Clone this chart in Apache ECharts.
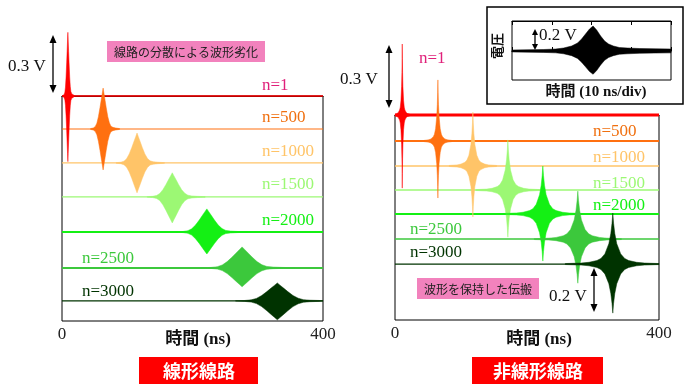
<!DOCTYPE html>
<html><head><meta charset="utf-8">
<script src="https://cdn.jsdelivr.net/npm/echarts@6/dist/echarts.min.js"></script>
<style>html,body{margin:0;padding:0;background:#fff}#c{width:695px;height:392px}</style>
</head><body><div id="c"></div>
<script>
// ---------- data ----------
const traceNames = ['n=1', 'n=500', 'n=1000', 'n=1500', 'n=2000', 'n=2500', 'n=3000'];
const timeTicks = [0, 400];               // ns
// linear line (left panel)
const linBase   = [0, -0.171, -0.347, -0.523, -0.705, -0.891, -1.062]; // V offset of each trace
const linCenter = [9, 63, 115, 169, 222, 276, 330];                    // ns
const linWidth  = [2.3, 6, 10, 12, 14.5, 19, 20];                      // ns
const linUp     = [0.33, 0.212, 0.155, 0.125, 0.12, 0.109, 0.093];     // V
const linDown   = [0.34, 0.212, 0.155, 0.135, 0.114, 0.098, 0.098];    // V
const linProfU  = [-3.2, -2.5, -2, -1.6, -1.2, -0.8, -0.5, -0.2, 0, 0.2, 0.5, 0.8, 1.2, 1.6, 2, 2.5, 3.2, 4.2];
const linProfF  = [0.01, 0.025, 0.06, 0.14, 0.3, 0.52, 0.7, 0.88, 1, 0.88, 0.7, 0.52, 0.3, 0.15, 0.07, 0.04, 0.025, 0.01];
// nonlinear line (right panel)
const nlBase    = [0, -0.121, -0.237, -0.349, -0.460, -0.577, -0.693];
const nlCenter  = [11, 65, 118, 171, 224, 277, 330];
const nlWidth   = [2, 3.5, 6, 8, 10, 11, 12];
const nlUp      = [0.33, 0.284, 0.25, 0.233, 0.223, 0.223, 0.237];
const nlDown    = [0.34, 0.265, 0.237, 0.219, 0.219, 0.205, 0.228];
const nlProfU   = [-6, -4, -3, -2, -1.5, -1, -0.5, -0.25, -0.1, 0, 0.1, 0.25, 0.5, 1, 1.5, 2, 3, 4, 6];
const nlProfF   = [0.01, 0.02, 0.035, 0.07, 0.11, 0.2, 0.4, 0.6, 0.8, 1, 0.8, 0.6, 0.4, 0.2, 0.11, 0.07, 0.035, 0.02, 0.01];
// inset waveform (10 ns/div)
const insetT    = [0, 8, 11, 13, 15, 16.5, 17.5, 18.5, 19.5, 20.4, 21.3, 22.3, 23.3, 24.3, 25.5, 27, 29, 32, 36, 40];
const insetAmp  = [0.01, 0.015, 0.02, 0.03, 0.05, 0.08, 0.12, 0.17, 0.22, 0.25, 0.21, 0.15, 0.1, 0.07, 0.05, 0.035, 0.03, 0.025, 0.022, 0.02];

// ---------- styles ----------
const traceColors = ['#ff0000', '#ff7010', '#ffc468', '#9cf874', '#14f014', '#3cc83c', '#003300'];
const labelColors = ['#e0207a', '#f07010', '#ffc468', '#9cf874', '#14f014', '#3cc83c', '#003300'];
const linLineW = [1.5, 1.2, 1.2, 1.2, 2, 2, 1.2];
const nlLineW  = [3, 2, 1.5, 1.5, 2, 1.5, 1.2];
const linLabelPos = [[262, 86], [262, 118], [262, 152], [262, 185], [262, 221], [82, 259], [82, 292]];
const nlLabelPos  = [[419, 59], [593, 132], [593, 158], [593, 184], [593, 206], [410, 230], [410, 253]];

const SERIF = '"Liberation Serif","Noto Sans CJK JP",serif';
const GOTH = '"Noto Sans CJK JP","Noto Sans",sans-serif';

function clampT(t) { return Math.max(timeTicks[0], Math.min(timeTicks[1], t)); }
function pulseSeries(idx, centers, bases, widths, ups, downs, profU, profF) {
  return {
    type: 'custom', xAxisIndex: idx, yAxisIndex: idx, z: 5, clip: false, silent: true,
    data: centers.map((c, i) => [c, bases[i], widths[i], ups[i], downs[i], i]),
    renderItem: function (params, api) {
      const c = api.value(0), b = api.value(1), w = api.value(2), up = api.value(3), dn = api.value(4), i = api.value(5);
      const pts = [];
      for (let k = 0; k < profU.length; k++) pts.push(api.coord([clampT(c + profU[k] * w), b + up * profF[k]]));
      for (let k = profU.length - 1; k >= 0; k--) pts.push(api.coord([clampT(c + profU[k] * w), b - dn * profF[k]]));
      return { type: 'polygon', shape: { points: pts }, style: { fill: traceColors[i], stroke: traceColors[i], lineWidth: 0.5 } };
    }
  };
}
function baseSeries(idx, bases, widths) {
  return bases.map((b, i) => ({
    type: 'line', xAxisIndex: idx, yAxisIndex: idx, symbol: 'none', silent: true, z: 3, clip: false,
    data: [[timeTicks[0], b], [timeTicks[1], b]],
    lineStyle: { color: traceColors[i], width: widths[i] }
  }));
}
function vArrow(x, y1, y2, hw, hl) {
  return [
    { type: 'line', shape: { x1: x, y1: y1 + hl - 1, x2: x, y2: y2 - hl + 1 }, style: { stroke: '#000', lineWidth: 1.3 } },
    { type: 'polygon', shape: { points: [[x, y1], [x - hw, y1 + hl], [x + hw, y1 + hl]] }, style: { fill: '#000' } },
    { type: 'polygon', shape: { points: [[x, y2], [x - hw, y2 - hl], [x + hw, y2 - hl]] }, style: { fill: '#000' } }
  ];
}
function txt(t, x, y, font, fill, align) {
  return { type: 'text', z: 10, style: { text: t, x: x, y: y, font: font, fill: fill || '#111', align: align || 'left', verticalAlign: 'middle' } };
}
function mainX(g) {
  return {
    gridIndex: g, type: 'value', min: timeTicks[0], max: timeTicks[1], interval: timeTicks[1] - timeTicks[0],
    axisLine: { lineStyle: { color: '#000', width: 1 } }, axisTick: { show: false }, splitLine: { show: false },
    axisLabel: { fontFamily: '"Liberation Serif",serif', fontSize: 17, color: '#222', margin: 5 }
  };
}

const graphics = [];
// inset frame
graphics.push({ type: 'rect', z: 1, shape: { x: 487, y: 7, width: 196, height: 97 }, style: { fill: 'none', stroke: '#000', lineWidth: 1.5 } });
// arrows
graphics.push(...vArrow(53, 35, 93, 3.5, 8));
graphics.push(...vArrow(389, 45, 108, 3.5, 8));
graphics.push(...vArrow(594, 268, 312, 3.5, 8));
graphics.push(...vArrow(535, 29, 50, 3, 6));
// value texts
graphics.push(txt('0.3 V', 8, 67, '17px ' + SERIF));
graphics.push(txt('0.3 V', 340, 80, '17px ' + SERIF));
graphics.push(txt('0.2 V', 549, 297, '17px ' + SERIF));
graphics.push(txt('0.2 V', 539, 36, '17px ' + SERIF));
// axis titles
graphics.push(txt('時間 (ns)', 198, 340, 'bold 17px ' + SERIF, '#111', 'center'));
graphics.push(txt('時間 (ns)', 539, 340, 'bold 17px ' + SERIF, '#111', 'center'));
graphics.push(txt('時間 (10 ns/div)', 596, 92, 'bold 15px ' + SERIF, '#111', 'center'));
graphics.push({ type: 'text', z: 10, x: 497, y: 46, rotation: Math.PI / 2,
  style: { text: '電圧', x: 0, y: 0, font: 'bold 13px ' + GOTH, fill: '#111', align: 'center', verticalAlign: 'middle' } });
// pink notes
graphics.push({ type: 'rect', z: 1, shape: { x: 107, y: 41, width: 158, height: 21 }, style: { fill: '#f282bd' } });
graphics.push(txt('線路の分散による波形劣化', 186, 52, '12px ' + GOTH, '#222', 'center'));
graphics.push({ type: 'rect', z: 1, shape: { x: 417, y: 278, width: 122, height: 21 }, style: { fill: '#f282bd' } });
graphics.push(txt('波形を保持した伝搬', 478, 289, '12px ' + GOTH, '#222', 'center'));
// red title boxes
graphics.push({ type: 'rect', z: 1, shape: { x: 139, y: 357, width: 119, height: 27 }, style: { fill: '#ff0000' } });
graphics.push(txt('線形線路', 199, 371, 'bold 18px ' + GOTH, '#fff', 'center'));
graphics.push({ type: 'rect', z: 1, shape: { x: 472, y: 357, width: 131, height: 27 }, style: { fill: '#ff0000' } });
graphics.push(txt('非線形線路', 538, 371, 'bold 18px ' + GOTH, '#fff', 'center'));
// trace labels
traceNames.forEach((n, i) => {
  graphics.push(txt(n, linLabelPos[i][0], linLabelPos[i][1], '17px ' + SERIF, labelColors[i]));
  graphics.push(txt(n, nlLabelPos[i][0], nlLabelPos[i][1], '17px ' + SERIF, labelColors[i]));
});

const chart = echarts.init(document.getElementById('c'), null, { renderer: 'canvas' });
chart.setOption({
  animation: false,
  backgroundColor: '#fff',
  grid: [
    { left: 62, top: 96, width: 261, height: 225, show: true, borderColor: '#000', borderWidth: 1, backgroundColor: 'transparent' },
    { left: 395, top: 115, width: 264, height: 205, show: true, borderColor: '#000', borderWidth: 1, backgroundColor: 'transparent' },
    { left: 512, top: 21, width: 159, height: 59, show: true, borderColor: '#000', borderWidth: 1, backgroundColor: 'transparent' }
  ],
  xAxis: [
    mainX(0), mainX(1),
    { gridIndex: 2, type: 'value', min: 0, max: 40, interval: 10, axisLine: { lineStyle: { color: '#000' } },
      axisTick: { inside: true, length: 4, lineStyle: { color: '#000' } }, axisLabel: { show: false }, splitLine: { show: false } },
    { gridIndex: 2, type: 'value', position: 'top', min: 0, max: 40, interval: 10, axisLine: { lineStyle: { color: '#000' } },
      axisTick: { inside: true, length: 4, lineStyle: { color: '#000' } }, axisLabel: { show: false }, splitLine: { show: false } }
  ],
  yAxis: [
    { gridIndex: 0, type: 'value', min: -1.166, max: 0, show: false },
    { gridIndex: 1, type: 'value', min: -0.953, max: 0, show: false },
    { gridIndex: 2, type: 'value', min: -0.29, max: 0.30, show: false }
  ],
  series: [
    ...baseSeries(0, linBase, linLineW),
    pulseSeries(0, linCenter, linBase, linWidth, linUp, linDown, linProfU, linProfF),
    ...baseSeries(1, nlBase, nlLineW),
    pulseSeries(1, nlCenter, nlBase, nlWidth, nlUp, nlDown, nlProfU, nlProfF),
    {
      type: 'custom', xAxisIndex: 2, yAxisIndex: 2, z: 5, silent: true, clip: false,
      data: [[0, 0]],
      renderItem: function (params, api) {
        const pts = [];
        for (let k = 0; k < insetT.length; k++) pts.push(api.coord([insetT[k], insetAmp[k]]));
        for (let k = insetT.length - 1; k >= 0; k--) pts.push(api.coord([insetT[k], -insetAmp[k] * 0.93]));
        return { type: 'polygon', shape: { points: pts }, style: { fill: '#000', stroke: '#000', lineWidth: 0.5 } };
      }
    }
  ],
  graphic: graphics
});
</script></body></html>
